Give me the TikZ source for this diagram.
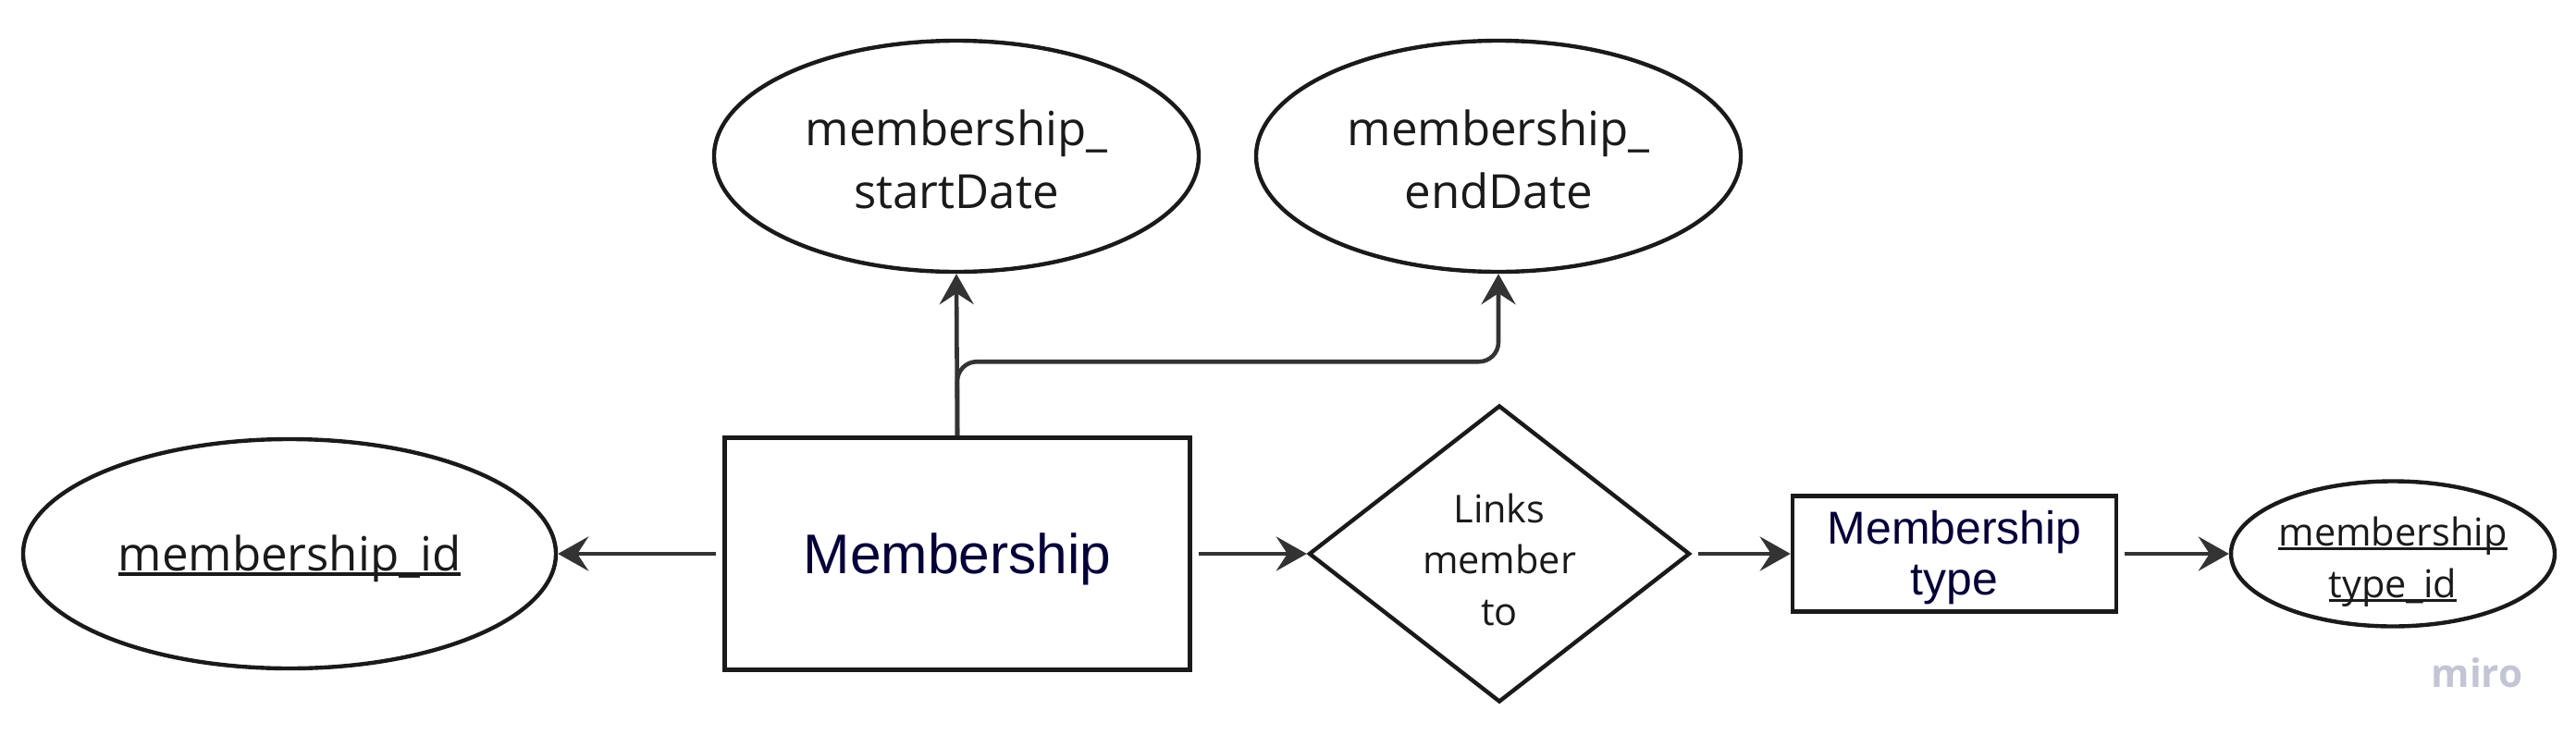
\documentclass[tikz,border=0pt]{standalone}
\usepackage{fontspec}
\setmainfont{Open Sans}
\newfontfamily\arialfont{Liberation Sans}
\usetikzlibrary{calc, positioning}
\usetikzlibrary{shapes.geometric}
\usetikzlibrary{arrows.meta}

\definecolor{inkline}{HTML}{1A1A1A}
\definecolor{arrowgray}{HTML}{333333}
\definecolor{miroblue}{HTML}{050038}
\definecolor{watermark}{HTML}{C3C5D4}

% key attribute: underline close to the baseline
\newcommand{\keyline}[1]{\setbox0=\hbox{#1}\rlap{\rule[-0.11em]{\wd0}{0.075em}}\box0}
% move a line down without changing the node size
\newcommand{\dropline}[2]{\raisebox{-#1}[\height][\depth]{#2}}

\begin{document}
\begin{tikzpicture}[
  attr/.style={ellipse, draw=inkline, line width=1.25pt, inner sep=0pt, align=center, text=inkline},
  entity/.style={rectangle, draw=inkline, line width=1.3pt, inner sep=0pt, align=center, text=miroblue},
  rel/.style={diamond, draw=inkline, line width=1.25pt, inner sep=0pt, align=center, text=inkline},
  conn/.style={draw=arrowgray, line width=1.3pt, -{Stealth[length=3.3mm, width=3.7mm, inset=1.2mm]}},
]
\def\bigfont{\fontsize{14.5}{19.2}\selectfont}
\def\smallfont{\fontsize{11.8}{15.8}\selectfont}
\useasboundingbox (0,0) rectangle (27.85,8.07);

% entity and its attributes
\node[entity, minimum width=5.03cm, minimum height=2.51cm, text depth=0pt,
  font=\arialfont\fontsize{17.2}{20}\selectfont] (mem) at (10.35,2.08) {Membership};
\node[attr, minimum width=5.76cm, minimum height=2.48cm, font=\bigfont] (mid) at (3.13,2.08)
  {\dropline{1.5pt}{\keyline{membership\_id}}};
\node[attr, minimum width=5.24cm, minimum height=2.50cm, font=\bigfont] (start) at (10.34,6.38)
  {\dropline{1pt}{membership\_}\\\dropline{1pt}{startDate}};
\node[attr, minimum width=5.24cm, minimum height=2.50cm, font=\bigfont] (end) at (16.20,6.38)
  {\dropline{1pt}{membership\_}\\\dropline{1pt}{endDate}};

% relationship
\node[rel, minimum width=4.12cm, minimum height=3.21cm, aspect=1.28, font=\smallfont] (links) at (16.21,2.08)
  {\dropline{1.8pt}{Links}\\\dropline{1.8pt}{member}\\\dropline{1.8pt}{to}};
\node[entity, minimum width=3.50cm, minimum height=1.25cm,
  font=\arialfont\fontsize{14.2}{15.6}\selectfont] (mtype) at (21.13,2.08)
  {\dropline{1.2pt}{Membership}\\\dropline{1.2pt}{type}};
\node[attr, minimum width=3.50cm, minimum height=1.57cm, font=\smallfont] (tid) at (25.87,2.08)
  {\dropline{2.5pt}{\keyline{membership}}\\\dropline{2.5pt}{\keyline{type\_id}}};

\node[text=watermark, font=\bfseries\fontsize{12}{14}\selectfont] (miro) at (26.78,0.79) {miro};

% connectors
\coordinate (split) at ($(mem.north)+(0,0.80)$);
\draw[conn, shorten <=2pt] (mem.west) -- (mid.east);
\draw[conn] (mem.north) -- (start.south);
\draw[conn, rounded corners=6pt] (mem.north) -- (split) -| (end.south);
\draw[conn, shorten <=2pt] (mem.east) -- (links.west);
\draw[conn, shorten <=2pt] (links.east) -- (mtype.west);
\draw[conn, shorten <=2pt] (mtype.east) -- (tid.west);
\end{tikzpicture}
\end{document}
